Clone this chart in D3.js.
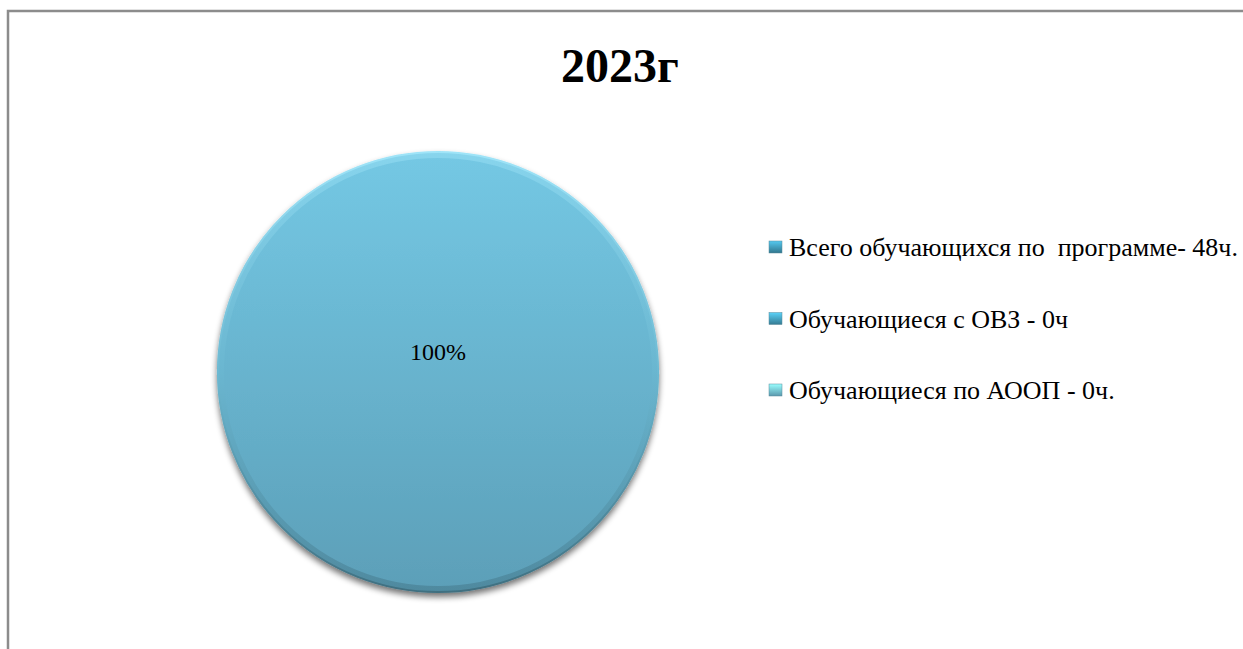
<!DOCTYPE html>
<html>
<head>
<meta charset="utf-8">
<script src="https://cdn.jsdelivr.net/npm/d3@7"></script>
<style>
    body { margin: 0; background: #fff; }
    svg { display: block; }
</style>
</head>
<body>
<svg id="chart" width="1243" height="649"></svg>
<script>
// chart data
var title = "2023г";
var categories = ["Всего обучающихся по  программе- 48ч.", "Обучающиеся с ОВЗ - 0ч", "Обучающиеся по АООП - 0ч."];
var values = [48, 0, 0];
var sliceColors = ["#3b8da8", "#3f93ae", "#6cb6cf"];

var svg = d3.select("#chart"),
    width = 1243,
    height = 649;

var defs = svg.append("defs");

// pie fill gradient (light top, darker bottom)
var grad = defs.append("linearGradient")
    .attr("id", "pieGrad")
    .attr("x1", 0).attr("y1", 0).attr("x2", 0).attr("y2", 1);
grad.append("stop").attr("offset", "0%").attr("stop-color", "#74c8e4");
grad.append("stop").attr("offset", "100%").attr("stop-color", "#5c9fb8");

// rim highlight / shadow
var rim = defs.append("linearGradient")
    .attr("id", "rimGrad")
    .attr("x1", 0).attr("y1", 0).attr("x2", 0).attr("y2", 1);
rim.append("stop").attr("offset", "0%").attr("stop-color", "#9fe4f8");
rim.append("stop").attr("offset", "50%").attr("stop-color", "#6cb9d2");
rim.append("stop").attr("offset", "100%").attr("stop-color", "#3f6f80");

var shadow = defs.append("filter").attr("id", "shadow")
    .attr("x", "-10%").attr("y", "-10%").attr("width", "120%").attr("height", "125%");
shadow.append("feGaussianBlur").attr("in", "SourceAlpha").attr("stdDeviation", 3);
shadow.append("feOffset").attr("dx", 0).attr("dy", 4).attr("result", "off");
shadow.append("feComponentTransfer").append("feFuncA").attr("type", "linear").attr("slope", 0.55);
var merge = shadow.append("feMerge");
merge.append("feMergeNode");
merge.append("feMergeNode").attr("in", "SourceGraphic");

// legend marker gradients
sliceColors.forEach(function (c, i) {
    var g = defs.append("linearGradient")
        .attr("id", "lg" + i)
        .attr("x1", 0).attr("y1", 0).attr("x2", 0).attr("y2", 1);
    g.append("stop").attr("offset", "0%").attr("stop-color", d3.color(c).brighter(1));
    g.append("stop").attr("offset", "100%").attr("stop-color", d3.color(c).darker(0.5));
});

// outer frame
svg.append("rect")
    .attr("x", 8).attr("y", 11)
    .attr("width", width + 20).attr("height", height + 20)
    .attr("fill", "#fff")
    .attr("stroke", "#8c8c8c")
    .attr("stroke-width", 2.5);

// title
svg.append("text")
    .attr("x", 620)
    .attr("y", 82)
    .attr("text-anchor", "middle")
    .style("font-family", "'Liberation Serif', 'Times New Roman', serif")
    .style("font-weight", "bold")
    .style("font-size", "48px")
    .text(title);

var cx = 438, cy = 372, r = 220;

var pie = d3.pie().sort(null).value(function (d) { return d; });
var arcs = pie(values);
var arc = d3.arc().innerRadius(0).outerRadius(r);
var total = d3.sum(values);
var shown = arcs.filter(function (d) { return d.value > 0; });

var g = svg.append("g").attr("transform", "translate(" + cx + "," + cy + ")");

g.selectAll("path.slice")
    .data(shown)
    .enter().append("path")
    .attr("class", "slice")
    .attr("d", arc)
    .attr("fill", "url(#pieGrad)")
    .attr("stroke", "url(#rimGrad)")
    .attr("stroke-width", 2)
    .attr("filter", "url(#shadow)");

// inner bevel ring
g.selectAll("path.bevel")
    .data(shown)
    .enter().append("path")
    .attr("class", "bevel")
    .attr("d", d3.arc().innerRadius(r - 6).outerRadius(r))
    .attr("fill", "url(#rimGrad)")
    .attr("opacity", 0.45);

// data labels
g.selectAll("text.lbl")
    .data(shown)
    .enter().append("text")
    .attr("class", "lbl")
    .attr("x", 0)
    .attr("y", function (d) { return (d.endAngle - d.startAngle) >= 2 * Math.PI - 1e-6 ? -12 : arc.centroid(d)[1]; })
    .attr("text-anchor", "middle")
    .style("font-family", "'Liberation Serif', 'Times New Roman', serif")
    .style("font-size", "24px")
    .text(function (d) { return Math.round(d.value / total * 100) + "%"; });

// legend
var legend = svg.append("g").attr("transform", "translate(769,0)");
var rows = legend.selectAll("g")
    .data(categories)
    .enter().append("g")
    .attr("transform", function (d, i) { return "translate(0," + (247 + i * 71.5) + ")"; });

rows.append("rect")
    .attr("x", 0).attr("y", -6)
    .attr("width", 13).attr("height", 12)
    .attr("fill", function (d, i) { return "url(#lg" + i + ")"; })
    .attr("stroke", "#5a8a9a")
    .attr("stroke-width", 0.5);

rows.append("text")
    .attr("x", 20)
    .attr("y", 9)
    .style("font-family", "'Liberation Serif', 'Times New Roman', serif")
    .style("font-size", "26px")
    .style("white-space", "pre")
    .attr("xml:space", "preserve")
    .text(function (d) { return d; });
</script>
</body>
</html>
